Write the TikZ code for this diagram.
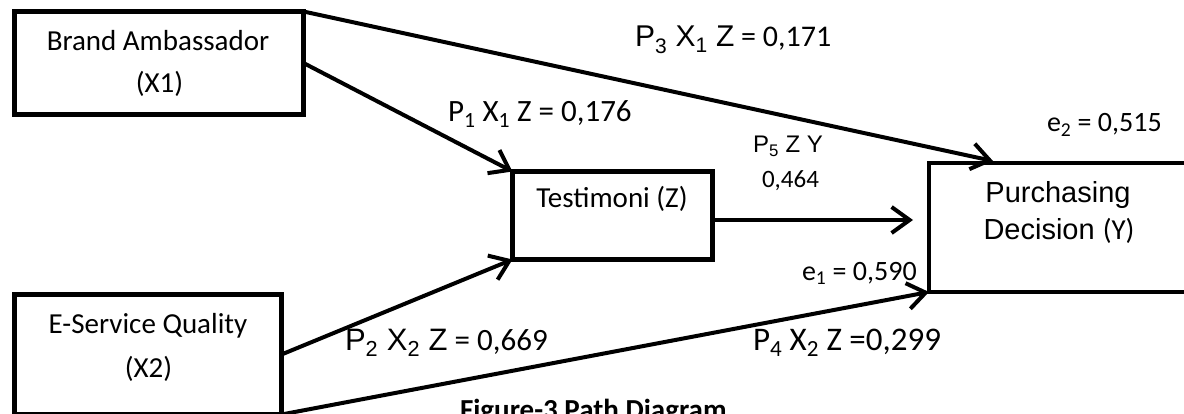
\documentclass[tikz,border=0pt]{standalone}
\usepackage{fontspec}
\setmainfont{Carlito}
\newfontfamily\arial{Liberation Sans}
\usetikzlibrary{arrows.meta}
\newcommand{\fs}[1]{\fontsize{#1}{#1}\selectfont}
\begin{document}
\begin{tikzpicture}[x=1pt,y=-1pt,
  box/.style={draw, line width=5pt, inner sep=0pt, outer sep=0pt},
  ybox/.style={draw, line width=4pt, inner sep=0pt, outer sep=0pt},
  lbl/.style={inner sep=0pt, outer sep=0pt, anchor=base west},
  ctr/.style={inner sep=0pt, outer sep=0pt, anchor=base},
  arr/.style={line width=4pt, -{Straight Barb[length=18pt,width=26pt]}}]
\useasboundingbox (0,0) rectangle (1184,414);
\clip (0,0) rectangle (1184,414);
\fill[white] (0,0) rectangle (1184,414);
% boxes
\node[box, minimum width=289pt, minimum height=103pt] (x1) at (159,63) {};
\node[box, minimum width=267pt, minimum height=120pt] (x2) at (148,354.5) {};
\node[box, minimum width=200pt, minimum height=88pt] (z) at (612.5,215.5) {};
\node[ybox, minimum width=261pt, minimum height=129pt] (y) at (1059.5,227.5) {};
% box texts
\node[ctr] (x1a) at (158,51) {\fs{29}Brand Ambassador};
\node[ctr] (x1b) at (159.5,93) {\fs{29}(X1)};
\node[ctr] (x2a) at (148,333) {\fs{29}E-Service Quality};
\node[ctr] (x2b) at (148.5,377) {\fs{29}(X2)};
\node[ctr] (za) at (612,208) {\fs{29}Testimoni (Z)};
\node[ctr] (ya) at (1058,203) {\arial\fs{29}Purchasing};
\node[ctr] (yb) at (1059,240) {\arial\fs{29}Decision {\rmfamily(Y)}};
% free ends
\coordinate (ytop) at (993,161);
\coordinate (yin) at (913,220);
% connectors
\draw[arr] (x1.north east) -- (ytop);
\draw[arr] (x1.east) -- (z.north west);
\draw[arr] (x2.east) -- (z.south west);
\draw[arr] (x2.south east) -- (y.south west);
\draw[arr] ([yshift=-4.5pt]z.east) -- (yin);
% labels
\node[lbl] (p3) at (635,47) {\fs{30}{\arial P\textsubscript{3} X\textsubscript{1} Z} = 0,171};
\node[lbl] (p1) at (448,122) {\fs{31}P\textsubscript{1} X\textsubscript{1} Z = 0,176};
\node[lbl] (p5) at (753,153) {\arial\fs{24}P\textsubscript{5} Z Y};
\node[lbl] (p5v) at (762,188) {\fs{25}0,464};
\node[lbl] (e2) at (1047,132) {\fs{28}e\textsubscript{2} = 0,515};
\node[lbl] (e1) at (802,280) {\fs{28}e\textsubscript{1} = 0,590};
\node[lbl] (p2) at (345,350) {\fs{31}{\arial P\textsubscript{2} X\textsubscript{2} Z} = 0,669};
\node[lbl] (p4) at (753,350) {\fs{33}P\textsubscript{4} X\textsubscript{2} Z =0,299};
\node[lbl] (fig) at (460,419) {\fs{29}\bfseries Figure-3 Path Diagram};
\end{tikzpicture}
\end{document}
